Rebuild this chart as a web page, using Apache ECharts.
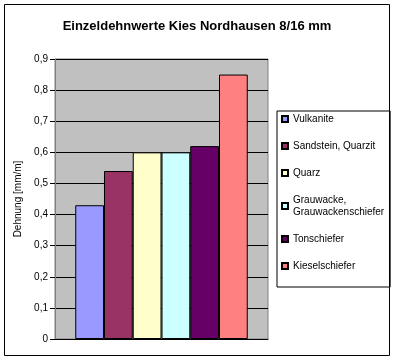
<!DOCTYPE html>
<html>
<head>
<meta charset="utf-8">
<script src="https://cdn.jsdelivr.net/npm/echarts@6/dist/echarts.min.js"></script>
<style>
html,body{margin:0;padding:0;background:#fff;}
#chart{width:394px;height:360px;}
</style>
</head>
<body>
<div id="chart"></div>
<script>
// Data
const titleText = 'Einzeldehnwerte Kies Nordhausen 8/16 mm';
const yAxisName = 'Dehnung [mm/m]';
const categories = ['Vulkanite', 'Sandstein, Quarzit', 'Quarz', 'Grauwacke,\nGrauwackenschiefer', 'Tonschiefer', 'Kieselschiefer'];
const values = [0.43, 0.54, 0.60, 0.60, 0.62, 0.85];
const colors = ['#9999FF', '#993366', '#FFFFCC', '#CCFFFF', '#660066', '#FF8080'];
const yMin = 0, yMax = 0.9, yStep = 0.1;

const font = 'Arial, "Liberation Sans", sans-serif';
const chart = echarts.init(document.getElementById('chart'));

const series = categories.map((name, i) => ({
  name: name,
  type: 'bar',
  data: [values[i]],
  barGap: '0%',
  barCategoryGap: '19%',
  itemStyle: { color: colors[i], borderColor: '#000', borderWidth: 1 },
  emphasis: { disabled: true }
}));

chart.setOption({
  animation: false,
  backgroundColor: '#fff',
  title: {
    text: titleText,
    left: 'center',
    top: 15,
    textStyle: { fontFamily: font, fontSize: 13, fontWeight: 'bold', color: '#000' }
  },
  grid: {
    left: 55, right: 126, top: 59, bottom: 21,
    show: true, backgroundColor: '#C0C0C0', borderColor: '#808080', borderWidth: 1
  },
  legend: {
    orient: 'vertical',
    left: 277, top: 111,
    padding: [2, 6, 15, 4],
    itemGap: 15,
    itemWidth: 6, itemHeight: 6,
    borderColor: '#000', borderWidth: 1,
    icon: 'rect',
    textStyle: { fontFamily: font, fontSize: 10, color: '#000', lineHeight: 12 },
    data: categories
  },
  xAxis: {
    type: 'category',
    data: [''],
    axisLine: { lineStyle: { color: '#000' } },
    axisTick: { show: false },
    axisLabel: { show: false }
  },
  yAxis: {
    type: 'value',
    min: yMin, max: yMax, interval: yStep,
    name: yAxisName,
    nameLocation: 'middle',
    nameGap: 27,
    nameTextStyle: { fontFamily: font, fontSize: 10, color: '#000' },
    axisLine: { show: true, lineStyle: { color: '#808080' } },
    axisTick: { show: true, length: 5, lineStyle: { color: '#000' } },
    axisLabel: {
      fontFamily: font, fontSize: 10, color: '#000', margin: 7,
      formatter: v => (Math.round(v * 10) / 10).toString().replace('.', ',')
    },
    splitLine: { show: true, lineStyle: { color: '#000', width: 1 } }
  },
  graphic: [{
    type: 'rect',
    shape: { x: 4.5, y: 4.5, width: 385, height: 351 },
    style: { fill: 'none', stroke: '#000', lineWidth: 1 },
    silent: true
  }],
  series: series
});
</script>
</body>
</html>
